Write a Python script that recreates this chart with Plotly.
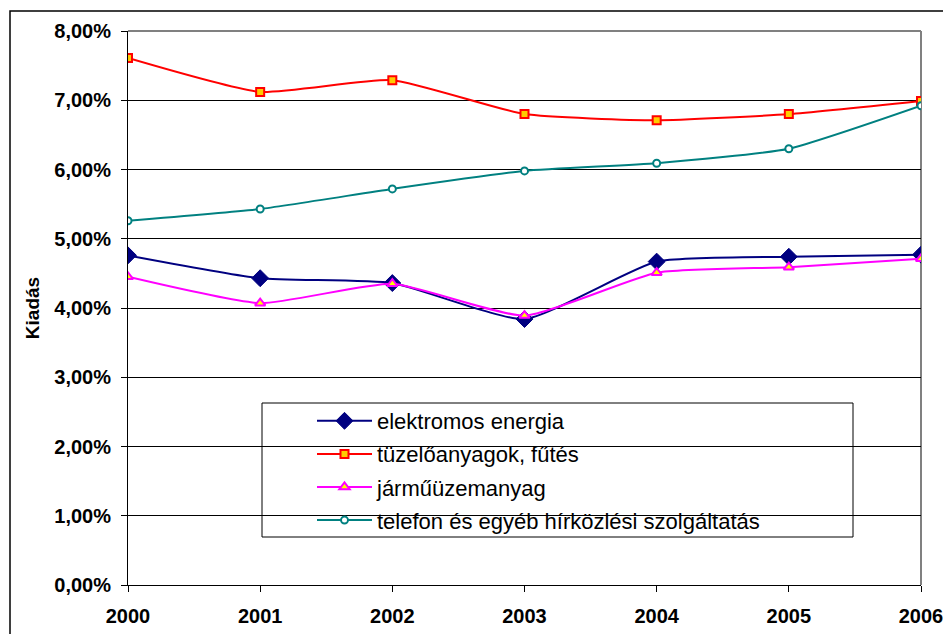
import plotly.graph_objects as go

years = [2000, 2001, 2002, 2003, 2004, 2005, 2006]
year_labels = ["2000", "2001", "2002", "2003", "2004", "2005", "2006"]

elektromos = [4.76, 4.43, 4.36, 3.84, 4.67, 4.74, 4.77]
tuzelo = [7.61, 7.12, 7.29, 6.80, 6.71, 6.80, 6.99]
jarmu = [4.45, 4.07, 4.35, 3.89, 4.51, 4.59, 4.71]
telefon = [5.26, 5.43, 5.72, 5.98, 6.09, 6.30, 6.92]

y_ticks = [0, 1, 2, 3, 4, 5, 6, 7, 8]
y_tick_labels = ["0,00%", "1,00%", "2,00%", "3,00%", "4,00%", "5,00%", "6,00%", "7,00%", "8,00%"]

FONT = "Liberation Sans, Arial, sans-serif"

fig = go.Figure()
fig.add_trace(go.Scatter(
    x=years, y=elektromos, name="elektromos energia", mode="lines+markers", legendgroup="a",
    line=dict(color="#000080", width=2, shape="spline", smoothing=0.5),
    marker=dict(symbol="diamond", size=13, color="#000080",
                line=dict(color="#000080", width=1))))
fig.add_trace(go.Scatter(
    x=years, y=tuzelo, name="tüzelőanyagok, fűtés", mode="lines+markers", legendgroup="b",
    line=dict(color="#FF0000", width=2, shape="spline", smoothing=0.5),
    marker=dict(symbol="square", size=8, color="#FFCC00",
                line=dict(color="#FF0000", width=2))))
fig.add_trace(go.Scatter(
    x=years, y=jarmu, name="járműüzemanyag", mode="lines+markers", legendgroup="c",
    line=dict(color="#FF00FF", width=2, shape="spline", smoothing=0.5),
    marker=dict(symbol="triangle-up", size=9, color="#FFFF00",
                line=dict(color="#FF00FF", width=2))))
fig.add_trace(go.Scatter(
    x=years, y=telefon, name="telefon és egyéb hírközlési szolgáltatás", mode="lines+markers",
    legendgroup="d",
    line=dict(color="#008080", width=2, shape="spline", smoothing=0.5),
    marker=dict(symbol="circle", size=7, color="#FFFFFF",
                line=dict(color="#008080", width=2))))

L, R, T, B = 128, 921, 31, 585
W, H = 943, 634
pw, ph = R - L, B - T

def px(x):
    return (x - L) / pw

def py(y):
    return (B - y) / ph

shapes = [
    # outer chart frame
    dict(type="rect", xref="paper", yref="paper", x0=px(10), y0=py(660), x1=px(990), y1=py(11),
         line=dict(color="black", width=1.5), fillcolor="rgba(0,0,0,0)", layer="below"),
    # plot area border top/right (gray)
    dict(type="line", xref="paper", yref="paper", x0=0, y0=1, x1=1, y1=1,
         line=dict(color="#808080", width=2), layer="above"),
    dict(type="line", xref="paper", yref="paper", x0=1, y0=0, x1=1, y1=1,
         line=dict(color="#808080", width=2), layer="below"),
    # legend box
    dict(type="rect", xref="paper", yref="paper", x0=px(262), y0=py(537), x1=px(853), y1=py(403),
         line=dict(color="black", width=1), fillcolor="white", layer="below"),
]

fig.update_layout(
    width=W, height=H,
    margin=dict(l=L, r=W - R, t=T, b=H - B, pad=0, autoexpand=False),
    paper_bgcolor="white", plot_bgcolor="white",
    font=dict(family=FONT, color="black"),
    showlegend=True,
    legend=dict(x=px(312), y=py(400), xanchor="left", yanchor="top",
                bgcolor="rgba(0,0,0,0)", borderwidth=0,
                font=dict(family=FONT, size=22, color="black"),
                tracegroupgap=1.5, itemwidth=55),
    shapes=shapes,
    xaxis=dict(range=[2000, 2006], tickvals=years, ticktext=year_labels,
               showgrid=False, zeroline=False, showline=True, linecolor="black", linewidth=1,
               ticks="outside", ticklen=6, tickcolor="black", ticklabelstandoff=7,
               ticklabeloverflow="allow", automargin=False,
               tickfont=dict(family=FONT, size=20, color="black", weight="bold")),
    yaxis=dict(range=[0, 8], tickvals=y_ticks, ticktext=y_tick_labels,
               showgrid=True, gridcolor="black", gridwidth=1, zeroline=False,
               showline=True, linecolor="black", linewidth=1, automargin=False,
               ticks="outside", ticklen=6, tickcolor="black", ticklabelstandoff=6,
               tickfont=dict(family=FONT, size=20, color="black", weight="bold"),
               title=dict(text="Kiadás", standoff=9,
                          font=dict(family=FONT, size=19, color="black", weight="bold"))),
)

fig.write_html("out.html", config={"displayModeBar": False},
               post_script="document.body.style.margin='0';")
